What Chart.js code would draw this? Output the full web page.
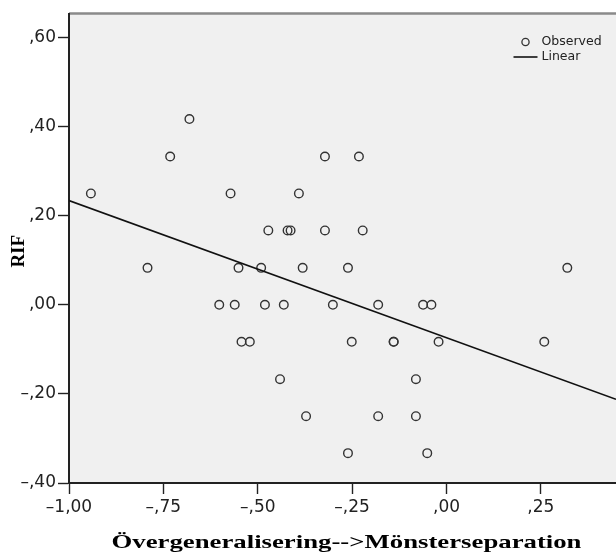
<!DOCTYPE html>
<html><head><meta charset="utf-8">
<script src="https://cdn.jsdelivr.net/npm/chart.js@4/dist/chart.umd.min.js"></script>
<style>html,body{margin:0;padding:0;background:#fff;overflow:hidden}#wrap{width:616px;height:554px;overflow:hidden}canvas{display:block}</style>
</head><body><div id="wrap"><canvas id="c" width="616" height="554"></canvas></div>
<script>
// Observed points (x = Övergeneralisering-->Mönsterseparation, y = RIF)
const obsX = [-0.681,
  -0.732, -0.322, -0.232,
  -0.942, -0.572, -0.391,
  -0.472, -0.421, -0.413, -0.322, -0.222,
  -0.792, -0.551, -0.491, -0.381, -0.261, 0.320,
  -0.602, -0.561, -0.481, -0.431, -0.301, -0.181, -0.062, -0.040,
  -0.543, -0.521, -0.251, -0.140, -0.140, -0.021, 0.259,
  -0.441, -0.081,
  -0.372, -0.181, -0.081,
  -0.261, -0.051];
const obsY = [0.417,
  0.333, 0.333, 0.333,
  0.250, 0.250, 0.250,
  0.167, 0.167, 0.167, 0.167, 0.167,
  0.083, 0.083, 0.083, 0.083, 0.083, 0.083,
  0, 0, 0, 0, 0, 0, 0, 0,
  -0.083, -0.083, -0.083, -0.083, -0.083, -0.083, -0.083,
  -0.167, -0.167,
  -0.250, -0.250, -0.250,
  -0.333, -0.333];
// Linear fit line end points
const fitX = [-1.0, 0.449];
const fitY = [0.234, -0.212];
// Axis ticks
const xTickLabels = ['–1,00', '–,75', '–,50', '–,25', ',00', ',25'];
const yTickLabels = ['–,40', '–,20', ',00', ',20', ',40', ',60'];
const xTitle = 'Övergeneralisering-->Mönsterseparation';
const yTitle = 'RIF';
const legendLabels = ['Observed', 'Linear'];

const obsData = obsX.map((x, i) => ({x, y: obsY[i]}));
const fitData = fitX.map((x, i) => ({x, y: fitY[i]}));

const framePlugin = {
  id: 'frame',
  beforeDraw(chart) {
    const {ctx, chartArea: a} = chart;
    ctx.save();
    ctx.fillStyle = '#f0f0f0';
    ctx.fillRect(a.left, a.top, a.right - a.left, a.bottom - a.top);
    ctx.strokeStyle = '#8a8a8a';
    ctx.lineWidth = 2.5;
    ctx.beginPath();
    ctx.moveTo(a.left, a.top);
    ctx.lineTo(a.right, a.top);
    ctx.stroke();
    ctx.restore();
  },
  afterDraw(chart) {
    const {ctx, chartArea: a} = chart;
    ctx.save();
    // legend
    const lx = 525.5;
    ctx.strokeStyle = '#333';
    ctx.lineWidth = 1.3;
    ctx.beginPath();
    ctx.arc(lx, 42, 3.6, 0, Math.PI * 2);
    ctx.stroke();
    ctx.strokeStyle = '#111';
    ctx.lineWidth = 1.6;
    ctx.beginPath();
    ctx.moveTo(lx - 12, 57);
    ctx.lineTo(lx + 12, 57);
    ctx.stroke();
    ctx.fillStyle = '#222';
    ctx.font = '12.5px "DejaVu Sans"';
    ctx.textBaseline = 'middle';
    ctx.textAlign = 'left';
    ctx.fillText(legendLabels[0], lx + 16, 42);
    ctx.fillText(legendLabels[1], lx + 16, 57);
    // x title
    ctx.fillStyle = '#000';
    ctx.font = 'bold 19px "Liberation Serif"';
    ctx.textBaseline = 'alphabetic';
    ctx.textAlign = 'center';
    const w = ctx.measureText(xTitle).width;
    const sx = 470 / w;
    ctx.save();
    ctx.translate(346.5, 548);
    ctx.scale(sx, 1);
    ctx.fillText(xTitle, 0, 0);
    ctx.restore();
    // y title
    ctx.save();
    ctx.translate(24, (a.top + a.bottom) / 2 + 3);
    ctx.rotate(-Math.PI / 2);
    ctx.font = 'bold 19px "Liberation Serif"';
    ctx.fillText(yTitle, 0, 0);
    ctx.restore();
    ctx.restore();
  }
};

new Chart(document.getElementById('c'), {
  type: 'scatter',
  data: {
    datasets: [
      {
        label: legendLabels[0],
        data: obsData,
        pointRadius: 4.3,
        pointHoverRadius: 4.3,
        pointBorderWidth: 1.4,
        borderColor: '#333',
        backgroundColor: 'rgba(0,0,0,0)',
        order: 2
      },
      {
        type: 'line',
        label: legendLabels[1],
        data: fitData,
        borderColor: '#111',
        borderWidth: 1.6,
        pointRadius: 0,
        fill: false,
        order: 1
      }
    ]
  },
  options: {
    responsive: false,
    animation: false,
    devicePixelRatio: 1,
    layout: {autoPadding: false, padding: {top: 13.5, right: 0, left: 0, bottom: 0}},
    plugins: {legend: {display: false}, tooltip: {enabled: false}},
    scales: {
      x: {
        type: 'linear',
        min: -1.0,
        max: 0.449,
        ticks: {
          stepSize: 0.25,
          includeBounds: false,
          maxRotation: 0,
          autoSkip: false,
          padding: 3,
          color: '#222',
          font: {family: 'DejaVu Sans', size: 17},
          callback: (v, i) => xTickLabels[i]
        },
        grid: {drawOnChartArea: false, drawTicks: true, tickLength: 11, tickColor: '#222', tickWidth: 1.4},
        border: {display: true, color: '#222', width: 2},
        afterFit(s) { s.height = 71; s.paddingLeft = 0; s.paddingRight = 0; }
      },
      y: {
        type: 'linear',
        min: -0.4,
        max: 0.654,
        ticks: {
          stepSize: 0.2,
          includeBounds: false,
          padding: 2,
          color: '#222',
          font: {family: 'DejaVu Sans', size: 17},
          callback: (v, i) => yTickLabels[i]
        },
        grid: {drawOnChartArea: false, drawTicks: true, tickLength: 11, tickColor: '#222', tickWidth: 1.4},
        border: {display: true, color: '#222', width: 2},
        afterFit(s) { s.width = 69; s.paddingTop = 0; s.paddingBottom = 0; }
      }
    }
  },
  plugins: [framePlugin]
});
</script>
</body></html>
